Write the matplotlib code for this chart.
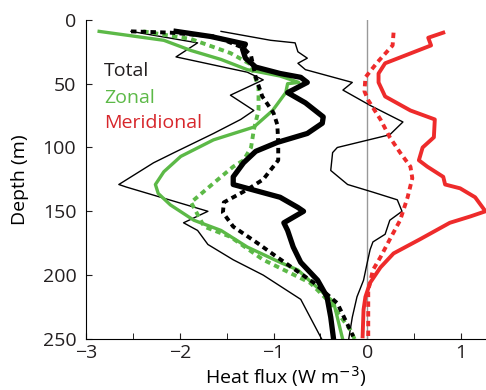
import matplotlib
matplotlib.use('Agg')
import matplotlib.pyplot as plt

plt.rcParams['font.family'] = ['Open Sans', 'DejaVu Sans']

# total heat flux (thick black), depth in m
tot_x = [-2.04, -1.67, -1.30, -1.33, -1.30, -1.19, -0.93, -0.71, -0.64, -0.85, -0.66,
         -0.47, -0.48, -0.64, -0.96, -1.19, -1.32, -1.43, -1.43, -0.93, -0.74, -0.68,
         -0.89, -0.85, -0.79, -0.71, -0.53, -0.43, -0.39, -0.36]
tot_d = [9, 13, 19, 23, 30, 37, 42, 45, 49, 57, 65, 76, 81, 89, 96, 103, 112, 123, 129,
         139, 147, 150, 159, 165, 178, 190, 204, 217, 233, 250]

# total, dotted
totd_x = [-2.52, -2.10, -1.62, -1.32, -1.24, -1.19, -1.12, -1.00, -0.96, -0.95, -0.95,
          -1.11, -1.28, -1.53, -1.54, -1.43, -1.17, -0.96, -0.57, -0.32, -0.15]
totd_d = [9, 10, 13, 22, 28, 45, 60, 73, 82, 96, 110, 125, 133, 143, 151, 162, 175, 186,
          206, 222, 248]

# thin envelopes around total
lo_x = [-2.52, -1.81, -2.04, -1.28, -1.11, -1.46, -1.21, -1.35, -1.64, -2.06, -2.28,
        -2.65, -2.57, -1.70, -1.96, -1.81, -1.70, -1.43, -1.11, -0.71, -0.48]
lo_d = [9, 18, 29, 41, 47, 59, 71, 78, 89, 104, 112, 129, 131, 150, 159, 165, 176, 188,
        200, 219, 251]
hi_x = [-1.56, -1.03, -0.77, -0.74, -0.64, -0.74, -0.66, -0.36, -0.16, -0.26, 0.03, 0.38,
        0.24, -0.32, -0.37, -0.39, -0.21, 0.06, 0.32, 0.37, 0.24, 0.19, 0.06, 0.03, 0.00,
        -0.04, -0.11, -0.16, -0.20]
hi_d = [9, 16, 18, 25, 30, 34, 39, 45, 49, 55, 67, 80, 90, 100, 104, 118, 129, 135, 141,
        150, 157, 168, 174, 180, 190, 204, 217, 233, 251]

# zonal
zon_x = [-2.86, -2.17, -1.88, -1.56, -1.28, -0.93, -0.73, -0.85, -0.87, -1.01, -1.21,
         -1.64, -1.99, -2.17, -2.26, -2.23, -2.10, -1.85, -1.56, -1.28, -0.93, -0.74,
         -0.50, -0.36, -0.32, -0.26]
zon_d = [9, 16, 24, 31, 39, 44, 49, 50, 57, 71, 84, 94, 107, 119, 129, 136, 145, 157,
         165, 178, 190, 196, 212, 221, 233, 251]
zond_x = [-2.39, -1.88, -1.46, -1.24, -1.16, -1.16, -1.21, -1.24, -1.32, -1.43, -1.56,
          -1.88, -1.74, -1.46, -1.11, -0.61, -0.39, -0.18, -0.13]
zond_d = [9, 15, 26, 35, 53, 71, 86, 100, 110, 115, 123, 143, 162, 170, 188, 206, 222,
          243, 251]

# meridional
mer_x = [0.81, 0.65, 0.68, 0.19, 0.12, 0.12, 0.19, 0.46, 0.72, 0.71, 0.59, 0.55, 0.64,
         0.81, 0.83, 0.99, 1.15, 1.26, 1.10, 0.88, 0.56, 0.28, 0.14, 0.03, -0.02, -0.04,
         -0.05]
mer_d = [10, 14, 20, 34, 42, 49, 60, 71, 78, 92, 100, 110, 115, 123, 129, 132, 139, 150,
         154, 159, 172, 183, 194, 206, 217, 227, 248]
merd_x = [0.28, 0.27, 0.11, -0.02, -0.03, 0.01, 0.14, 0.24, 0.35, 0.46, 0.48, 0.43, 0.35,
          0.24, 0.14, 0.06, 0.01, 0.01]
merd_d = [10, 20, 33, 45, 56, 63, 78, 92, 104, 115, 124, 139, 157, 172, 186, 196, 212,
          248]

green = '#5cb947'
red = '#ee2b2b'

fig = plt.figure(figsize=(4.86, 3.9), dpi=100)
ax = fig.add_axes([0.177, 0.131, 0.823, 0.818])

ax.plot([0, 0], [0, 250], color='#999999', lw=1.0)
ax.plot(lo_x, lo_d, color='black', lw=1.0)
ax.plot(hi_x, hi_d, color='black', lw=1.0)
ax.plot(merd_x, merd_d, color=red, lw=2.8, dashes=(1.4, 1.1))
ax.plot(mer_x, mer_d, color=red, lw=2.8)
ax.plot(zond_x, zond_d, color=green, lw=2.8, dashes=(1.4, 1.1))
ax.plot(zon_x, zon_d, color=green, lw=2.4)
ax.plot(totd_x, totd_d, color='black', lw=2.8, dashes=(1.4, 1.1))
ax.plot(tot_x, tot_d, color='black', lw=3.8)

ax.text(-2.81, 40, 'Total', color='#231f20', fontsize=14, va='center')
ax.text(-2.81, 61, 'Zonal', color=green, fontsize=14, va='center')
ax.text(-2.81, 81, 'Meridional', color='#d7262b', fontsize=14, va='center')

ax.set_xlim(-3, 1.266)
ax.set_ylim(250, 0)
ax.set_xticks([-3, -2, -1, 0, 1])
ax.set_xticklabels(['\u22123', '\u22122', '\u22121', '0', '1'])
ax.set_xticks([-2.5, -1.5, -0.5, 0.5], minor=True)
ax.set_yticks([0, 50, 100, 150, 200, 250])
ax.tick_params(direction='in', length=4, labelsize=14, colors='#231f20')
ax.tick_params(axis='y', pad=7)
ax.tick_params(which='minor', direction='in', length=4)
ax.spines['top'].set_visible(False)
ax.spines['right'].set_visible(False)
ax.set_xlabel('Heat flux (W m$^{-3}$)', fontsize=14, labelpad=2)
ax.set_ylabel('Depth (m)', fontsize=14, labelpad=10)

plt.savefig('out.png', dpi=100)
